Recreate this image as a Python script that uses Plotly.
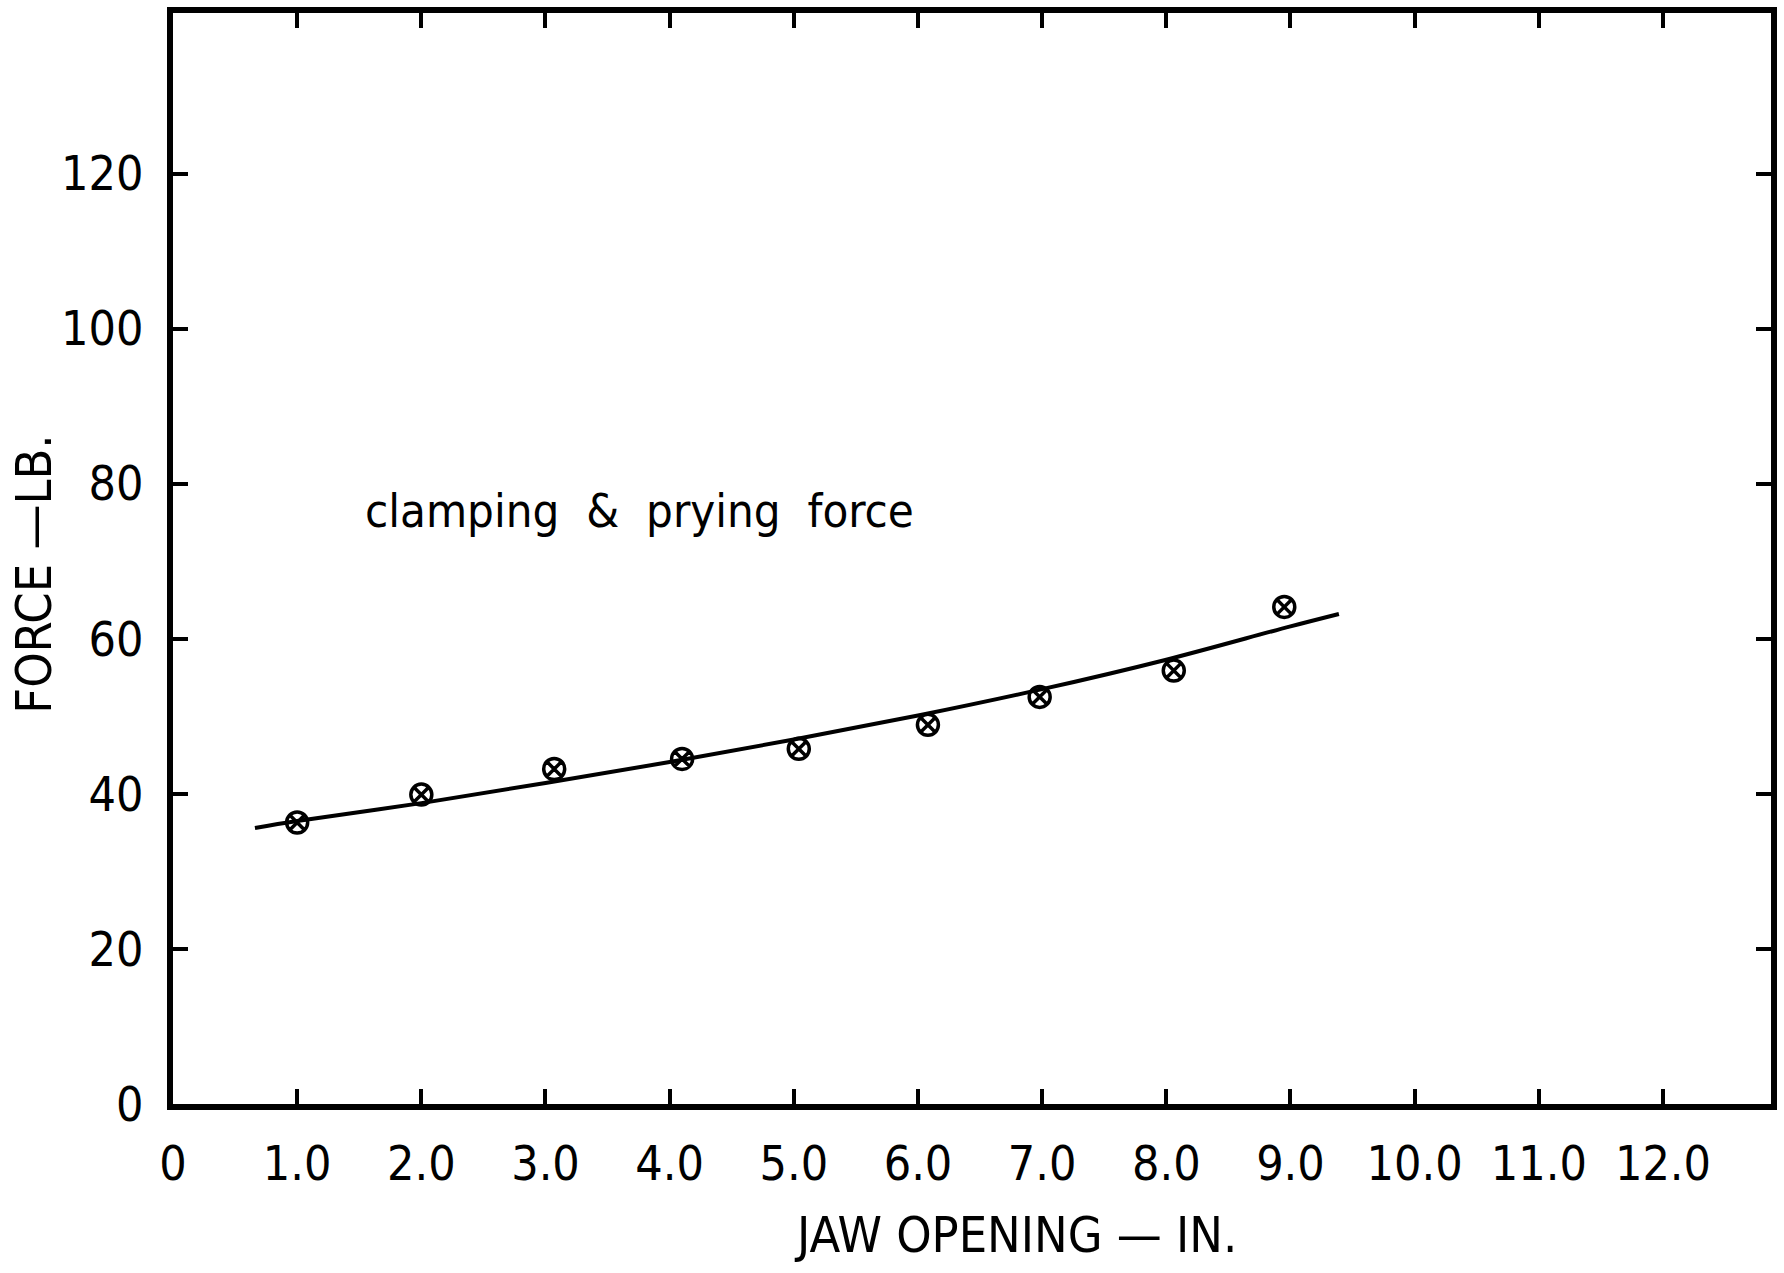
import plotly.graph_objects as go

# Measured data points (jaw opening in., force lb.)
jaw_opening = [1.0, 2.0, 3.07, 4.1, 5.04, 6.08, 6.98, 8.06, 8.95]
force = [36.3, 39.9, 43.2, 44.5, 45.8, 48.9, 52.5, 55.9, 64.1]

# Fitted curve
curve_x = [0.66, 1.0, 2.0, 3.0, 4.0, 5.0, 6.0, 7.0, 8.0, 9.0, 9.39]
curve_y = [35.6, 36.5, 38.8, 41.4, 44.1, 47.0, 50.1, 53.5, 57.3, 61.6, 63.2]

x_ticks = [0, 1, 2, 3, 4, 5, 6, 7, 8, 9, 10, 11, 12]
x_tick_labels = ["0", "1.0", "2.0", "3.0", "4.0", "5.0", "6.0", "7.0", "8.0", "9.0", "10.0", "11.0", "12.0"]
y_ticks = [0, 20, 40, 60, 80, 100, 120]
y_tick_labels = ["0", "20", "40", "60", "80", "100", "120"]

FONT = "Liberation Sans Narrow, DejaVu Sans Condensed, Arial Narrow, sans-serif"

fig = go.Figure()
fig.add_trace(go.Scatter(
    x=curve_x, y=curve_y, mode="lines",
    line=dict(color="black", width=4, shape="spline", smoothing=1.0),
    showlegend=False, hoverinfo="skip",
))
fig.add_trace(go.Scatter(
    x=jaw_opening, y=force, mode="markers",
    marker=dict(symbol="circle-x-open", size=21, color="black", line=dict(width=3.5, color="black")),
    showlegend=False,
))

fig.add_annotation(
    x=1.53, y=76.5, xref="x", yref="y", xanchor="left", yanchor="middle",
    text="clamping  &  prying  force", showarrow=False,
    font=dict(family=FONT, size=47, color="black"),
)
fig.add_annotation(
    x=0.527, y=-0.12, xref="paper", yref="paper", xanchor="center", yanchor="middle",
    text="JAW OPENING — IN.", showarrow=False,
    font=dict(family=FONT, size=50, color="black"),
)
fig.add_annotation(
    x=-0.087, y=0.486, xref="paper", yref="paper", xanchor="center", yanchor="middle",
    text="FORCE —LB.", showarrow=False, textangle=-90,
    font=dict(family=FONT, size=50, color="black"),
)

fig.update_layout(
    width=1784, height=1273,
    margin=dict(l=173, r=7, t=9, b=169),
    paper_bgcolor="white", plot_bgcolor="white",
    font=dict(family=FONT, size=48, color="black"),
)
fig.update_xaxes(
    range=[0, 12.87], tickmode="array", tickvals=x_ticks, ticktext=x_tick_labels,
    showgrid=False, zeroline=False, showline=True, linecolor="black", linewidth=6,
    mirror="ticks", ticks="inside", ticklen=15, tickwidth=4, tickcolor="black",
    ticklabelstandoff=12, tickfont=dict(family=FONT, size=48, color="black"),
)
fig.update_yaxes(
    range=[0, 140.7], tickmode="array", tickvals=y_ticks, ticktext=y_tick_labels,
    showgrid=False, zeroline=False, showline=True, linecolor="black", linewidth=6,
    mirror="ticks", ticks="inside", ticklen=15, tickwidth=4, tickcolor="black",
    ticklabelstandoff=14, tickfont=dict(family=FONT, size=48, color="black"),
)

fig.write_html("out.html")
